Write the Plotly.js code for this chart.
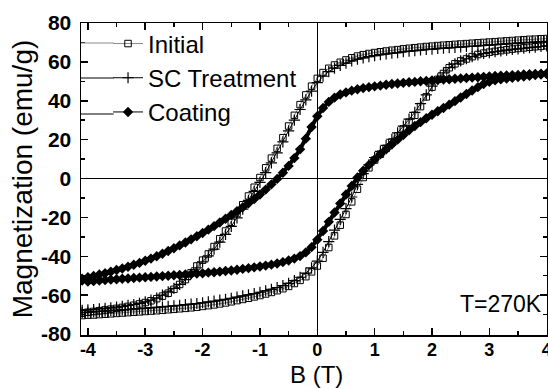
<!DOCTYPE html>
<html>
<head>
<meta charset="utf-8">
<script src="https://cdn.plot.ly/plotly-3.0.1.min.js"></script>
<style>html,body{margin:0;padding:0;background:#fff;}#chart{width:548px;height:388px;}</style>
</head>
<body>
<div id="chart"></div>
<script>
// Field sweep grids (T)
const B_down = [4.0, 3.9, 3.8, 3.7, 3.6, 3.5, 3.4, 3.3, 3.2, 3.1, 3.0, 2.9, 2.8, 2.7, 2.6, 2.5, 2.4, 2.3, 2.2, 2.1,
  2.0, 1.9, 1.8, 1.7, 1.6, 1.5, 1.4, 1.3, 1.2, 1.1, 1.0, 0.9, 0.8, 0.7, 0.6, 0.5, 0.4, 0.3, 0.2, 0.1,
  0.0, -0.1, -0.2, -0.3, -0.4, -0.5, -0.6, -0.7, -0.8, -0.9, -1.0, -1.1, -1.2, -1.3, -1.4, -1.5, -1.6, -1.7, -1.8, -1.9,
  -2.0, -2.1, -2.2, -2.3, -2.4, -2.5, -2.6, -2.7, -2.8, -2.9, -3.0, -3.1, -3.2, -3.3, -3.4, -3.5, -3.6, -3.7, -3.8, -3.9,
  -4.0, -4.1];
const B_up = [-4.1, -4.0, -3.9, -3.8, -3.7, -3.6, -3.5, -3.4, -3.3, -3.2, -3.1, -3.0, -2.9, -2.8, -2.7, -2.6, -2.5, -2.4, -2.3, -2.2,
  -2.1, -2.0, -1.9, -1.8, -1.7, -1.6, -1.5, -1.4, -1.3, -1.2, -1.1, -1.0, -0.9, -0.8, -0.7, -0.6, -0.5, -0.4, -0.3, -0.2,
  -0.1, 0.0, 0.1, 0.2, 0.3, 0.4, 0.5, 0.6, 0.7, 0.8, 0.9, 1.0, 1.1, 1.2, 1.3, 1.4, 1.5, 1.6, 1.7, 1.8,
  1.9, 2.0, 2.1, 2.2, 2.3, 2.4, 2.5, 2.6, 2.7, 2.8, 2.9, 3.0, 3.1, 3.2, 3.3, 3.4, 3.5, 3.6, 3.7, 3.8,
  3.9, 4.0];

// Initial (emu/g)
const initial_down = [72.0, 71.9, 71.7, 71.6, 71.4, 71.2, 71.0, 70.8, 70.6, 70.4, 70.2, 70.0, 69.8, 69.6, 69.4, 69.2, 69.0, 68.8, 68.6, 68.4,
  68.1, 67.9, 67.6, 67.3, 67.0, 66.7, 66.3, 66.0, 65.6, 65.2, 64.8, 64.3, 63.7, 63.0, 62.1, 61.0, 59.8, 58.4, 56.7, 54.5,
  51.5, 47.5, 43.0, 38.0, 32.5, 27.0, 21.0, 15.5, 10.5, 5.5, 0.5, -4.5, -9.0, -13.5, -18.0, -22.5, -27.0, -31.0, -35.0, -38.8,
  -42.0, -45.0, -48.5, -52.0, -54.5, -57.0, -59.0, -60.5, -61.8, -62.9, -63.8, -64.5, -65.2, -65.8, -66.3, -66.8, -67.2, -67.6, -68.0, -68.4,
  -68.8, -69.3];
const initial_up = [-70.5, -70.3, -70.2, -70.0, -69.8, -69.6, -69.4, -69.2, -69.0, -68.8, -68.6, -68.4, -68.2, -68.0, -67.8, -67.5, -67.3, -67.0, -66.8, -66.5,
  -66.2, -65.8, -65.4, -65.0, -64.5, -64.0, -63.4, -62.8, -62.2, -61.6, -60.9, -60.2, -59.4, -58.6, -57.7, -56.7, -55.5, -54.0, -52.4, -50.5,
  -48.0, -45.0, -41.0, -35.5, -29.5, -24.0, -18.5, -12.0, -5.5, 0.5, 5.5, 9.5, 12.5, 15.5, 18.8, 22.0, 25.5, 29.0, 32.5, 37.0,
  42.0, 47.0, 51.0, 54.0, 57.0, 59.0, 60.5, 61.5, 62.7, 63.8, 64.5, 65.0, 65.4, 65.8, 66.2, 66.6, 66.9, 67.2, 67.5, 67.8,
  68.0, 68.3];

// SC Treatment (emu/g)
const sc_down = [70.5, 70.4, 70.2, 70.1, 69.9, 69.7, 69.5, 69.3, 69.1, 68.9, 68.7, 68.5, 68.3, 68.1, 67.9, 67.7, 67.5, 67.3, 67.1, 66.9,
  66.6, 66.4, 66.1, 65.8, 65.5, 65.2, 64.8, 64.5, 64.1, 63.7, 63.2, 62.7, 62.1, 61.4, 60.5, 59.4, 58.2, 56.8, 55.0, 52.6,
  49.3, 45.0, 40.5, 35.5, 30.0, 24.5, 18.8, 13.2, 8.0, 3.0, -2.0, -6.6, -11.2, -15.7, -20.2, -24.6, -28.7, -32.7, -36.3, -39.8,
  -42.9, -45.9, -49.0, -52.0, -54.5, -56.5, -58.3, -60.0, -61.5, -62.6, -63.5, -64.2, -64.8, -65.3, -65.8, -66.2, -66.5, -66.8, -67.1, -67.4,
  -67.6, -67.8];
const sc_up = [-69.0, -68.8, -68.6, -68.4, -68.2, -68.0, -67.8, -67.6, -67.4, -67.2, -67.0, -66.8, -66.6, -66.3, -66.1, -65.8, -65.5, -65.2, -64.9, -64.6,
  -64.3, -63.9, -63.5, -63.1, -62.6, -62.1, -61.6, -61.0, -60.4, -59.8, -59.2, -58.5, -57.8, -57.0, -56.1, -55.1, -53.9, -52.5, -50.8, -48.7,
  -46.0, -42.5, -38.0, -32.5, -26.5, -21.0, -15.5, -9.5, -3.0, 2.5, 7.0, 10.8, 14.0, 17.0, 20.2, 23.5, 27.0, 30.5, 34.0, 38.5,
  43.0, 47.5, 51.3, 54.3, 57.0, 59.0, 60.5, 61.6, 62.7, 63.6, 64.3, 64.8, 65.2, 65.6, 66.0, 66.4, 66.7, 67.0, 67.3, 67.6,
  67.9, 68.2];

// Coating (emu/g)
const coat_down = [54.0, 53.9, 53.8, 53.6, 53.5, 53.3, 53.2, 53.0, 52.9, 52.7, 52.5, 52.3, 52.1, 51.9, 51.7, 51.5, 51.3, 51.1, 50.9, 50.7,
  50.5, 50.2, 50.0, 49.7, 49.5, 49.2, 48.9, 48.6, 48.2, 47.8, 47.4, 47.0, 46.5, 45.9, 45.2, 44.3, 43.2, 41.6, 39.4, 36.3,
  32.0, 26.5, 20.5, 15.0, 10.5, 6.5, 3.0, -0.2, -3.0, -5.7, -8.2, -10.5, -12.7, -14.8, -16.8, -18.8, -20.7, -22.6, -24.5, -26.3,
  -28.0, -29.7, -31.3, -32.9, -34.4, -35.9, -37.3, -38.7, -40.0, -41.2, -42.3, -43.4, -44.4, -45.4, -46.3, -47.1, -47.9, -48.7, -49.4, -50.1,
  -50.8, -51.5];
const coat_up = [-52.5, -53.0, -52.8, -52.5, -52.2, -52.0, -51.8, -51.6, -51.4, -51.2, -51.0, -50.8, -50.6, -50.4, -50.2, -50.0, -49.8, -49.6, -49.4, -49.2,
  -48.9, -48.7, -48.4, -48.2, -47.9, -47.6, -47.3, -46.9, -46.5, -46.1, -45.7, -45.3, -44.8, -44.3, -43.7, -43.0, -42.2, -41.2, -39.9, -38.0,
  -35.3, -31.5, -27.0, -22.3, -17.5, -12.8, -8.2, -3.8, 0.5, 4.0, 7.0, 9.8, 12.5, 15.0, 17.5, 20.0, 22.4, 24.8, 27.0, 29.0,
  31.0, 32.8, 34.6, 36.3, 38.0, 39.8, 41.7, 43.5, 45.3, 47.0, 48.6, 49.8, 50.5, 51.0, 51.4, 51.8, 52.2, 52.5, 52.9, 53.2,
  53.5, 53.8];

const seriesNames = ['Initial', 'SC Treatment', 'Coating'];
const xTicks = [-4, -3, -2, -1, 0, 1, 2, 3, 4];
const yTicks = [-80, -60, -40, -20, 0, 20, 40, 60, 80];

const loopX = B_down.concat(B_up);
const FONT = 'Liberation Sans, Arial, sans-serif';

const traces = [
  {x: loopX, y: initial_down.concat(initial_up), name: seriesNames[0], type: 'scatter', mode: 'lines+markers',
   line: {color: '#8a8a8a', width: 1},
   marker: {symbol: 'square-open', size: 6.5, color: '#000', line: {color: '#000', width: 1}}},
  {x: loopX, y: sc_down.concat(sc_up), name: seriesNames[1], type: 'scatter', mode: 'lines+markers',
   line: {color: '#000', width: 1},
   marker: {symbol: 'cross-thin-open', size: 8, color: '#000', line: {color: '#000', width: 1.2}}},
  {x: loopX, y: coat_down.concat(coat_up), name: seriesNames[2], type: 'scatter', mode: 'lines',
   showlegend: false, hoverinfo: 'skip',
   line: {color: '#000', width: 4}},
  {x: loopX, y: coat_down.concat(coat_up), name: seriesNames[2], type: 'scatter', mode: 'lines+markers',
   line: {color: '#000', width: 1},
   marker: {symbol: 'diamond', size: 8, color: '#000'}}
];

const axisCommon = {
  showgrid: false, showline: true, linecolor: '#000', linewidth: 1.5, mirror: 'ticks',
  ticks: 'inside', ticklen: 7, tickwidth: 1.5, tickcolor: '#000',
  zeroline: true, zerolinecolor: '#000', zerolinewidth: 1.2,
  ticklabeloverflow: 'allow', fixedrange: true
};

// legend sample-line extensions (decoration, paper coordinates)
const legendRowY = [0.9359, 0.8237, 0.7083];
const legendLineColors = ['#8a8a8a', '#000', '#000'];

const layout = {
  width: 548, height: 388,
  margin: {l: 81, r: 1, t: 23, b: 53},
  paper_bgcolor: '#fff', plot_bgcolor: '#fff',
  font: {family: FONT, color: '#000'},
  showlegend: true,
  xaxis: Object.assign({}, axisCommon, {
    range: [-4.12, 4.005], tickvals: xTicks, ticktext: xTicks.map(String),
    minor: {dtick: 0.5, tick0: 0, ticks: 'inside', ticklen: 4, tickwidth: 1.5, tickcolor: '#000'},
    tickfont: {family: FONT, size: 18, weight: 'bold', color: '#000'},
    ticklabelstandoff: -2
  }),
  yaxis: Object.assign({}, axisCommon, {
    range: [-80.5, 80], tickvals: yTicks, ticktext: yTicks.map(String),
    minor: {dtick: 10, tick0: 0, ticks: 'inside', ticklen: 4, tickwidth: 1.5, tickcolor: '#000'},
    tickfont: {family: FONT, size: 21, weight: 'bold', color: '#000'},
    ticklabelstandoff: 4,
    title: {text: 'Magnetization (emu/g)', font: {family: FONT, size: 28, color: '#000'}, standoff: 0}
  }),
  legend: {x: 0.058, y: 1.005, xanchor: 'left', yanchor: 'top', bgcolor: 'rgba(0,0,0,0)',
    font: {family: FONT, size: 24, color: '#000'}, tracegroupgap: 0, itemclick: false},
  shapes: legendRowY.map((yy, i) => ({type: 'line', xref: 'paper', yref: 'paper',
    x0: 0, x1: 0.07, y0: yy, y1: yy, line: {color: legendLineColors[i], width: 1}})),
  annotations: [
    {xref: 'paper', yref: 'paper', x: 0.506, y: -0.125, xanchor: 'center', yanchor: 'middle',
     text: 'B (T)', showarrow: false, font: {family: FONT, size: 24, color: '#000'}},
    {xref: 'paper', yref: 'y', x: 1, y: -64.4, xanchor: 'right', yanchor: 'middle', xshift: -3,
     text: 'T=270K', showarrow: false, font: {family: FONT, size: 23, color: '#000'}}
  ]
};

Plotly.newPlot('chart', traces, layout, {displayModeBar: false, staticPlot: true});
</script>
</body>
</html>
